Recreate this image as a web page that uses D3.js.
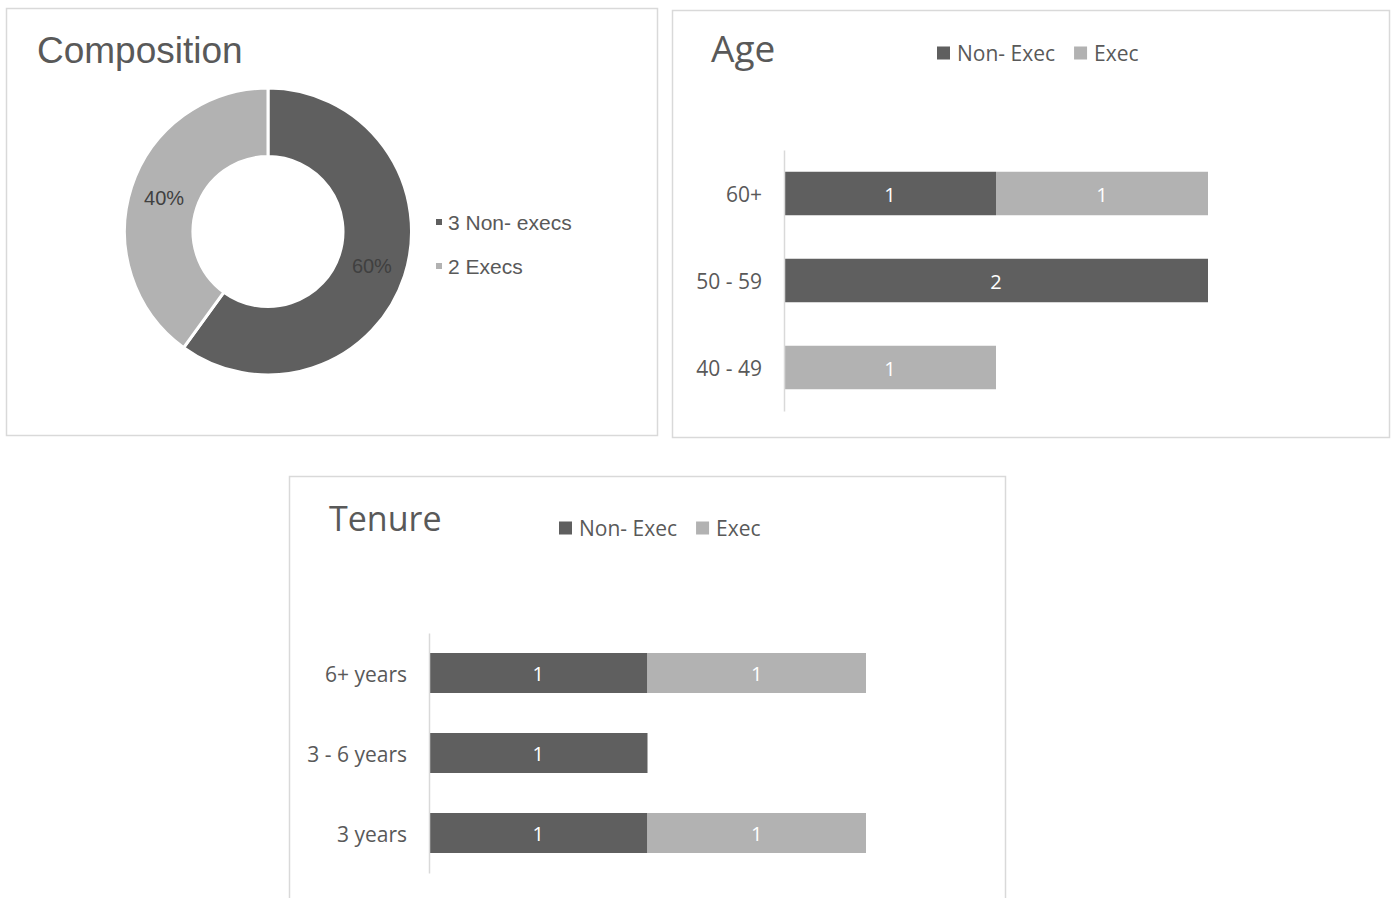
<!DOCTYPE html>
<html>
<head>
<meta charset="utf-8">
<script src="https://cdn.jsdelivr.net/npm/d3@7"></script>
<style>
  body { margin: 0; background: #fff; }
  svg { display: block; }
</style>
</head>
<body>
<div id="container"></div>
<script>
/* ---------------- DATA ---------------- */
const compLabels = ["3 Non- execs", "2 Execs"];
const compValues = [3, 2];

const seriesNames = ["Non- Exec", "Exec"];

const ageCats = ["60+", "50 - 59", "40 - 49"];
const ageNonExec = [1, 2, 0];
const ageExec = [1, 0, 1];

const tenureCats = ["6+ years", "3 - 6 years", "3 years"];
const tenureNonExec = [1, 1, 1];
const tenureExec = [1, 0, 1];

/* ---------------- STYLE ---------------- */
const W = 1396, H = 898;
const dark = "#5f5f5f", light = "#b2b2b2";
const textCol = "#595959";
const borderCol = "#d9d9d9";
const sansA = "'Liberation Sans', Arial, sans-serif";
const sansB = "'Open Sans', 'Noto Sans', sans-serif";

const svg = d3.select("#container").append("svg")
  .attr("width", W)
  .attr("height", H);

function panel(x, y, w, h) {
  svg.append("rect")
    .attr("x", x + 0.5).attr("y", y + 0.5)
    .attr("width", w).attr("height", h)
    .attr("fill", "#fff")
    .attr("stroke", borderCol)
    .attr("stroke-width", 1.5);
}

/* ---------------- COMPOSITION ---------------- */
panel(6, 8, 651, 427);

svg.append("text")
  .attr("x", 37).attr("y", 63)
  .attr("font-family", sansA)
  .attr("font-size", 37)
  .attr("fill", textCol)
  .text("Composition");

const cx = 268, cy = 231.5;
const pie = d3.pie().sort(null).value(d => d)(compValues);
const arc = d3.arc().innerRadius(75).outerRadius(143.5);
const total = d3.sum(compValues);

const g1 = svg.append("g").attr("transform", `translate(${cx},${cy})`);
g1.selectAll("path")
  .data(pie)
  .enter()
  .append("path")
  .attr("d", arc)
  .attr("fill", (d, i) => i === 0 ? dark : light)
  .attr("stroke", "#fff")
  .attr("stroke-width", 3);

g1.selectAll("text.pct")
  .data(pie)
  .enter()
  .append("text")
  .attr("class", "pct")
  .attr("x", d => arc.centroid(d)[0])
  .attr("y", d => arc.centroid(d)[1])
  .attr("dy", "0.38em")
  .attr("text-anchor", "middle")
  .attr("font-family", sansA)
  .attr("font-size", 20)
  .attr("fill", "#404040")
  .text(d => Math.round(d.value / total * 100) + "%");

const leg1 = svg.append("g");
compLabels.forEach((lab, i) => {
  const y = 222 + i * 44;
  leg1.append("rect")
    .attr("x", 436).attr("y", y - 3)
    .attr("width", 6).attr("height", 6)
    .attr("fill", i === 0 ? dark : light);
  leg1.append("text")
    .attr("x", 448).attr("y", y)
    .attr("dy", "0.37em")
    .attr("font-family", sansA)
    .attr("font-size", 21)
    .attr("fill", textCol)
    .text(lab);
});

/* ---------------- STACKED BARS ---------------- */
function stackedBar(opt) {
  const rows = opt.cats.map((c, i) => ({ cat: c, "Non- Exec": opt.nonExec[i], "Exec": opt.exec[i] }));
  const stacked = d3.stack().keys(seriesNames)(rows);

  const y = d3.scaleBand()
    .domain(opt.cats)
    .range([opt.top, opt.bottom])
    .paddingInner(0.5)
    .paddingOuter(0.25);

  const x = d3.scaleLinear()
    .domain([0, 2])
    .range([opt.left, opt.left + opt.unit * 2]);

  svg.append("text")
    .attr("x", opt.titleX).attr("y", opt.titleY)
    .attr("font-family", sansB)
    .attr("font-size", opt.titleSize)
    .attr("fill", textCol)
    .text(opt.title);

  // legend
  const lg = svg.append("g");
  let lx = opt.legX;
  seriesNames.forEach((s, i) => {
    lg.append("rect")
      .attr("x", lx).attr("y", opt.legY - 6.5)
      .attr("width", 13).attr("height", 13)
      .attr("fill", i === 0 ? dark : light);
    const t = lg.append("text")
      .attr("x", lx + 20).attr("y", opt.legY)
      .attr("dy", "0.38em")
      .attr("font-family", sansB)
      .attr("font-size", 21)
      .attr("fill", textCol)
      .text(s);
    lx += 20 + t.node().getComputedTextLength() + 19;
  });

  const layers = svg.append("g").selectAll("g")
    .data(stacked)
    .enter()
    .append("g")
    .attr("fill", (d, i) => i === 0 ? dark : light);

  layers.selectAll("rect")
    .data(d => d.filter(p => p[1] - p[0] > 0))
    .enter()
    .append("rect")
    .attr("x", d => x(d[0]))
    .attr("y", d => y(d.data.cat))
    .attr("width", d => x(d[1]) - x(d[0]))
    .attr("height", y.bandwidth());

  layers.selectAll("text")
    .data(d => d.filter(p => p[1] - p[0] > 0))
    .enter()
    .append("text")
    .attr("x", d => (x(d[0]) + x(d[1])) / 2)
    .attr("y", d => y(d.data.cat) + y.bandwidth() / 2)
    .attr("dy", "0.42em")
    .attr("text-anchor", "middle")
    .attr("font-family", sansB)
    .attr("font-size", 20)
    .attr("fill", "#fff")
    .text(d => d[1] - d[0]);

  const ax = svg.append("g")
    .attr("transform", `translate(${opt.left},0)`)
    .call(d3.axisLeft(y).tickSize(0).tickPadding(22));
  ax.select(".domain").attr("stroke", borderCol).attr("stroke-width", 1.5);
  ax.selectAll("text")
    .attr("dy", "0.42em")
    .attr("font-family", sansB)
    .attr("font-size", 21)
    .attr("fill", textCol);
}

panel(672, 10, 717, 427);
stackedBar({
  title: "Age", titleX: 711, titleY: 62, titleSize: 37,
  legX: 937, legY: 53,
  cats: ageCats, nonExec: ageNonExec, exec: ageExec,
  top: 150, bottom: 411, left: 784, unit: 212
});

panel(289, 476, 716, 440);
stackedBar({
  title: "Tenure", titleX: 329, titleY: 531, titleSize: 34,
  legX: 559, legY: 528,
  cats: tenureCats, nonExec: tenureNonExec, exec: tenureExec,
  top: 633, bottom: 873, left: 429, unit: 218.5
});
</script>
</body>
</html>
